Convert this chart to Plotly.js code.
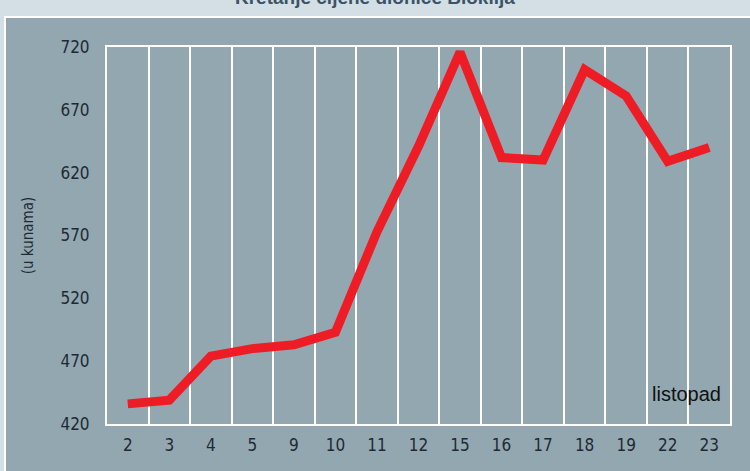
<!DOCTYPE html>
<html>
<head>
<meta charset="utf-8">
<script src="https://cdn.plot.ly/plotly-3.0.1.min.js"></script>
<style>html,body{margin:0;padding:0;background:#d3dee5;}#chart{width:750px;height:471px;}</style>
</head>
<body>
<div id="chart"></div>
<script>
const days = ['2','3','4','5','9','10','11','12','15','16','17','18','19','22','23'];
const prices = [436, 439, 474, 480, 483, 493, 573, 641, 716, 632, 630, 702, 681, 629, 640];
const yTicks = [420, 470, 520, 570, 620, 670, 720];
const chartTitle = 'Kretanje cijene dionice Bioklija';
const yTitle = '(u kunama)';
const monthLabel = 'listopad';

const condFont = 'DejaVu Sans Condensed, Liberation Sans Narrow, Arial Narrow, sans-serif';

const trace = {
  x: days,
  y: prices,
  type: 'scatter',
  mode: 'lines',
  line: {color: '#ee1d25', width: 9},
  hoverinfo: 'skip'
};

const layout = {
  width: 750,
  height: 471,
  margin: {l: 107, r: 20, t: 47, b: 47},
  paper_bgcolor: '#d3dee5',
  plot_bgcolor: '#93a7b1',
  showlegend: false,
  xaxis: {
    type: 'category',
    range: [-0.5, days.length - 0.5],
    tickson: 'boundaries',
    showgrid: true,
    gridcolor: '#ffffff',
    gridwidth: 2,
    showline: true,
    mirror: true,
    linecolor: '#ffffff',
    linewidth: 2,
    ticks: '',
    ticklabelstandoff: 5,
    tickfont: {family: condFont, size: 17, color: '#1e2a33'},
    zeroline: false,
    fixedrange: true
  },
  yaxis: {
    range: [420, 720],
    tickvals: yTicks,
    ticktext: yTicks.map(String),
    showgrid: false,
    zeroline: false,
    showline: true,
    mirror: true,
    linecolor: '#ffffff',
    linewidth: 2,
    ticks: '',
    ticklabelstandoff: 12,
    tickfont: {family: condFont, size: 17, color: '#1e2a33'},
    title: {text: yTitle, font: {family: condFont, size: 15, color: '#1e2a33'}, standoff: 23},
    fixedrange: true
  },
  shapes: [{
    type: 'rect', xref: 'paper', yref: 'paper', layer: 'below',
    x0: -0.1637, x1: 1.1, y0: -0.2, y1: 1.0796,
    fillcolor: '#93a7b1',
    line: {color: '#ffffff', width: 2}
  }],
  annotations: [
    {
      text: '<b>' + chartTitle + '</b>',
      xref: 'paper', yref: 'paper', x: 0.43, y: 1.098,
      xanchor: 'center', yanchor: 'bottom', showarrow: false,
      font: {family: 'Liberation Sans, Arial, sans-serif', size: 19, color: '#3b5465'}
    },
    {
      text: monthLabel,
      xref: 'paper', yref: 'paper', x: 0.988, y: 0.045,
      xanchor: 'right', yanchor: 'bottom', showarrow: false,
      font: {family: 'Liberation Sans, Arial, sans-serif', size: 20, color: '#111111'}
    }
  ]
};

Plotly.newPlot('chart', [trace], layout, {displayModeBar: false, staticPlot: true});
</script>
</body>
</html>
